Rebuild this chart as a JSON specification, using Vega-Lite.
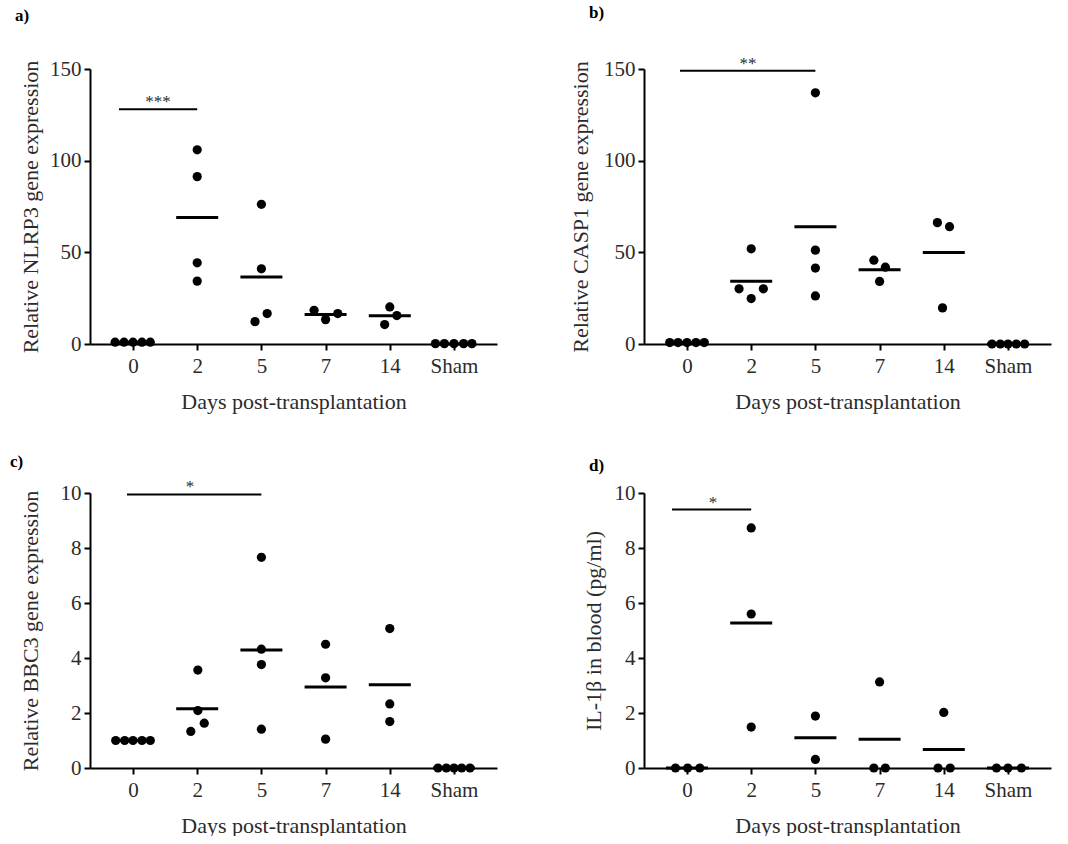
{
  "$schema": "https://vega.github.io/schema/vega-lite/v6.json",
  "background": "white",
  "padding": {"left": 10, "top": 3, "right": 5, "bottom": 0},
  "config": {
    "view": {"stroke": null},
    "font": "'Liberation Serif', 'Times New Roman', serif",
    "axis": {
      "grid": false,
      "domainColor": "black",
      "domainWidth": 2,
      "tickColor": "black",
      "tickWidth": 2,
      "tickSize": 6,
      "labelFont": "'Liberation Serif', 'Times New Roman', serif",
      "labelFontSize": 21,
      "labelColor": "#2b2b2b",
      "titleFont": "'Liberation Serif', 'Times New Roman', serif",
      "titleFontSize": 22,
      "titleFontWeight": "normal",
      "titleColor": "#2b2b2b"
    },
    "axisX": {"labelAngle": 0, "labelPadding": 5, "titlePadding": 15},
    "axisY": {"labelPadding": 3, "titlePadding": 7},
    "text": {"font": "'Liberation Serif', 'Times New Roman', serif"},
    "title": {"font": "'Liberation Serif', 'Times New Roman', serif", "fontSize": 17, "fontWeight": "bold", "color": "black", "anchor": "start", "frame": "group"}
  },
  "datasets": {
    "pts": [
      {"p": "a", "day": "0", "v": 1, "j": -0.28},
      {"p": "a", "day": "0", "v": 1, "j": -0.14},
      {"p": "a", "day": "0", "v": 1, "j": 0},
      {"p": "a", "day": "0", "v": 1, "j": 0.14},
      {"p": "a", "day": "0", "v": 1, "j": 0.27},
      {"p": "a", "day": "2", "v": 105.9, "j": 0},
      {"p": "a", "day": "2", "v": 91.3, "j": 0},
      {"p": "a", "day": "2", "v": 44.3, "j": 0},
      {"p": "a", "day": "2", "v": 34.3, "j": 0},
      {"p": "a", "day": "5", "v": 76.2, "j": 0},
      {"p": "a", "day": "5", "v": 41.0, "j": 0},
      {"p": "a", "day": "5", "v": 16.6, "j": 0.09},
      {"p": "a", "day": "5", "v": 12.2, "j": -0.1},
      {"p": "a", "day": "7", "v": 18.4, "j": -0.18},
      {"p": "a", "day": "7", "v": 13.3, "j": 0},
      {"p": "a", "day": "7", "v": 16.6, "j": 0.19},
      {"p": "a", "day": "14", "v": 20.2, "j": 0},
      {"p": "a", "day": "14", "v": 15.5, "j": 0.11},
      {"p": "a", "day": "14", "v": 10.6, "j": -0.08},
      {"p": "a", "day": "Sham", "v": 0.2, "j": -0.29},
      {"p": "a", "day": "Sham", "v": 0.2, "j": -0.15},
      {"p": "a", "day": "Sham", "v": 0.2, "j": 0},
      {"p": "a", "day": "Sham", "v": 0.2, "j": 0.15},
      {"p": "a", "day": "Sham", "v": 0.2, "j": 0.28},

      {"p": "b", "day": "0", "v": 0.8, "j": -0.27},
      {"p": "b", "day": "0", "v": 0.8, "j": -0.14},
      {"p": "b", "day": "0", "v": 0.8, "j": 0},
      {"p": "b", "day": "0", "v": 0.8, "j": 0.14},
      {"p": "b", "day": "0", "v": 0.8, "j": 0.27},
      {"p": "b", "day": "2", "v": 51.9, "j": 0},
      {"p": "b", "day": "2", "v": 30.1, "j": -0.19},
      {"p": "b", "day": "2", "v": 24.8, "j": 0},
      {"p": "b", "day": "2", "v": 30.1, "j": 0.19},
      {"p": "b", "day": "5", "v": 137.0, "j": 0},
      {"p": "b", "day": "5", "v": 51.2, "j": 0},
      {"p": "b", "day": "5", "v": 41.4, "j": 0},
      {"p": "b", "day": "5", "v": 26.2, "j": 0},
      {"p": "b", "day": "7", "v": 45.7, "j": -0.09},
      {"p": "b", "day": "7", "v": 41.9, "j": 0.09},
      {"p": "b", "day": "7", "v": 34.1, "j": 0},
      {"p": "b", "day": "14", "v": 66.2, "j": -0.1},
      {"p": "b", "day": "14", "v": 64.0, "j": 0.09},
      {"p": "b", "day": "14", "v": 19.7, "j": -0.02},
      {"p": "b", "day": "Sham", "v": 0, "j": -0.25},
      {"p": "b", "day": "Sham", "v": 0, "j": -0.12},
      {"p": "b", "day": "Sham", "v": 0, "j": 0},
      {"p": "b", "day": "Sham", "v": 0, "j": 0.13},
      {"p": "b", "day": "Sham", "v": 0, "j": 0.26},

      {"p": "c", "day": "0", "v": 1, "j": -0.27},
      {"p": "c", "day": "0", "v": 1, "j": -0.13},
      {"p": "c", "day": "0", "v": 1, "j": 0},
      {"p": "c", "day": "0", "v": 1, "j": 0.14},
      {"p": "c", "day": "0", "v": 1, "j": 0.27},
      {"p": "c", "day": "2", "v": 3.56, "j": 0.01},
      {"p": "c", "day": "2", "v": 2.09, "j": 0.01},
      {"p": "c", "day": "2", "v": 1.63, "j": 0.11},
      {"p": "c", "day": "2", "v": 1.33, "j": -0.1},
      {"p": "c", "day": "5", "v": 7.66, "j": 0},
      {"p": "c", "day": "5", "v": 4.32, "j": 0},
      {"p": "c", "day": "5", "v": 3.76, "j": 0},
      {"p": "c", "day": "5", "v": 1.41, "j": 0},
      {"p": "c", "day": "7", "v": 4.50, "j": 0},
      {"p": "c", "day": "7", "v": 3.28, "j": 0},
      {"p": "c", "day": "7", "v": 1.05, "j": 0},
      {"p": "c", "day": "14", "v": 5.07, "j": 0},
      {"p": "c", "day": "14", "v": 2.33, "j": 0},
      {"p": "c", "day": "14", "v": 1.69, "j": 0},
      {"p": "c", "day": "Sham", "v": 0, "j": -0.25},
      {"p": "c", "day": "Sham", "v": 0, "j": -0.12},
      {"p": "c", "day": "Sham", "v": 0, "j": 0},
      {"p": "c", "day": "Sham", "v": 0, "j": 0.12},
      {"p": "c", "day": "Sham", "v": 0, "j": 0.25},

      {"p": "d", "day": "0", "v": 0, "j": -0.18},
      {"p": "d", "day": "0", "v": 0, "j": 0.01},
      {"p": "d", "day": "0", "v": 0, "j": 0.2},
      {"p": "d", "day": "2", "v": 8.73, "j": 0},
      {"p": "d", "day": "2", "v": 5.60, "j": 0},
      {"p": "d", "day": "2", "v": 1.49, "j": 0},
      {"p": "d", "day": "5", "v": 1.89, "j": 0},
      {"p": "d", "day": "5", "v": 0.31, "j": 0},
      {"p": "d", "day": "7", "v": 3.13, "j": 0},
      {"p": "d", "day": "7", "v": 0, "j": -0.09},
      {"p": "d", "day": "7", "v": 0, "j": 0.09},
      {"p": "d", "day": "14", "v": 2.02, "j": 0},
      {"p": "d", "day": "14", "v": 0, "j": -0.09},
      {"p": "d", "day": "14", "v": 0, "j": 0.1},
      {"p": "d", "day": "Sham", "v": 0, "j": -0.18},
      {"p": "d", "day": "Sham", "v": 0, "j": 0},
      {"p": "d", "day": "Sham", "v": 0, "j": 0.21}
    ],
    "sig": [
      {"p": "a", "from": "0", "to": "2", "y": 128, "stars": "***"},
      {"p": "b", "from": "0", "to": "5", "y": 149, "stars": "**"},
      {"p": "c", "from": "0", "to": "5", "y": 9.95, "stars": "*"},
      {"p": "d", "from": "0", "to": "2", "y": 9.4, "stars": "*"}
    ]
  },
  "columns": 2,
  "bounds": "flush",
  "spacing": {"row": 149, "column": 147},
  "concat": [
    {
      "width": 407, "height": 275,
      "title": {"text": "a)", "dx": -75, "offset": 33},
      "layer": [
        {"data": {"name": "pts"}, "transform": [{"filter": "datum.p === 'a'"}],
         "mark": {"type": "tick", "size": 42, "thickness": 3, "color": "black"},
         "encoding": {
           "x": {"field": "day", "type": "ordinal", "title": "Days post-transplantation", "scale": {"type": "point", "domain": ["0","2","5","7","14","Sham"], "padding": 0.67}},
           "y": {"aggregate": "mean", "field": "v", "type": "quantitative", "title": "Relative NLRP3 gene expression", "scale": {"domain": [0, 150], "nice": false}, "axis": {"values": [0, 50, 100, 150]}}
         }},
        {"data": {"name": "pts"}, "transform": [{"filter": "datum.p === 'a'"}],
         "mark": {"type": "circle", "size": 85, "opacity": 1, "color": "black"},
         "encoding": {
           "x": {"field": "day", "type": "ordinal", "title": "Days post-transplantation", "scale": {"type": "point", "domain": ["0","2","5","7","14","Sham"], "padding": 0.67}},
           "xOffset": {"field": "j", "type": "quantitative", "scale": {"domain": [-1, 1], "range": [-64, 64]}},
           "y": {"field": "v", "type": "quantitative", "title": "Relative NLRP3 gene expression"}
         }},
        {"data": {"name": "sig"}, "transform": [{"filter": "datum.p === 'a'"}],
         "mark": {"type": "rule", "strokeWidth": 2, "color": "black", "xOffset": -14},
         "encoding": {
           "x": {"field": "from", "type": "ordinal", "title": "Days post-transplantation", "scale": {"type": "point", "domain": ["0","2","5","7","14","Sham"], "padding": 0.67}},
           "x2": {"field": "to"},
           "y": {"field": "y", "type": "quantitative", "title": "Relative NLRP3 gene expression"}
         }},
        {"data": {"name": "sig"}, "transform": [{"filter": "datum.p === 'a'"}],
         "mark": {"type": "text", "dx": 25, "dy": -2, "baseline": "alphabetic", "fontSize": 17, "color": "#2b2b2b"},
         "encoding": {
           "x": {"field": "from", "type": "ordinal", "title": "Days post-transplantation", "scale": {"type": "point", "domain": ["0","2","5","7","14","Sham"], "padding": 0.67}},
           "y": {"field": "y", "type": "quantitative", "title": "Relative NLRP3 gene expression"},
           "text": {"field": "stars"}
         }}
      ]
    },
    {
      "width": 407, "height": 275,
      "title": {"text": "b)", "dx": -55, "offset": 33},
      "layer": [
        {"data": {"name": "pts"}, "transform": [{"filter": "datum.p === 'b'"}],
         "mark": {"type": "tick", "size": 42, "thickness": 3, "color": "black"},
         "encoding": {
           "x": {"field": "day", "type": "ordinal", "title": "Days post-transplantation", "scale": {"type": "point", "domain": ["0","2","5","7","14","Sham"], "padding": 0.67}},
           "y": {"aggregate": "mean", "field": "v", "type": "quantitative", "title": "Relative CASP1 gene expression", "scale": {"domain": [0, 150], "nice": false}, "axis": {"values": [0, 50, 100, 150], "titlePadding": 11}}
         }},
        {"data": {"name": "pts"}, "transform": [{"filter": "datum.p === 'b'"}],
         "mark": {"type": "circle", "size": 85, "opacity": 1, "color": "black"},
         "encoding": {
           "x": {"field": "day", "type": "ordinal", "title": "Days post-transplantation", "scale": {"type": "point", "domain": ["0","2","5","7","14","Sham"], "padding": 0.67}},
           "xOffset": {"field": "j", "type": "quantitative", "scale": {"domain": [-1, 1], "range": [-64, 64]}},
           "y": {"field": "v", "type": "quantitative", "title": "Relative CASP1 gene expression"}
         }},
        {"data": {"name": "sig"}, "transform": [{"filter": "datum.p === 'b'"}],
         "mark": {"type": "rule", "strokeWidth": 2, "color": "black", "xOffset": -7},
         "encoding": {
           "x": {"field": "from", "type": "ordinal", "title": "Days post-transplantation", "scale": {"type": "point", "domain": ["0","2","5","7","14","Sham"], "padding": 0.67}},
           "x2": {"field": "to"},
           "y": {"field": "y", "type": "quantitative", "title": "Relative CASP1 gene expression"}
         }},
        {"data": {"name": "sig"}, "transform": [{"filter": "datum.p === 'b'"}],
         "mark": {"type": "text", "dx": 61, "dy": -2, "baseline": "alphabetic", "fontSize": 17, "color": "#2b2b2b"},
         "encoding": {
           "x": {"field": "from", "type": "ordinal", "title": "Days post-transplantation", "scale": {"type": "point", "domain": ["0","2","5","7","14","Sham"], "padding": 0.67}},
           "y": {"field": "y", "type": "quantitative", "title": "Relative CASP1 gene expression"},
           "text": {"field": "stars"}
         }}
      ]
    },
    {
      "width": 407, "height": 275,
      "title": {"text": "c)", "dx": -80, "offset": 7},
      "layer": [
        {"data": {"name": "pts"}, "transform": [{"filter": "datum.p === 'c'"}],
         "mark": {"type": "tick", "size": 42, "thickness": 3, "color": "black"},
         "encoding": {
           "x": {"field": "day", "type": "ordinal", "title": "Days post-transplantation", "scale": {"type": "point", "domain": ["0","2","5","7","14","Sham"], "padding": 0.67}},
           "y": {"aggregate": "mean", "field": "v", "type": "quantitative", "title": "Relative BBC3 gene expression", "scale": {"domain": [0, 10], "nice": false}, "axis": {"values": [0, 2, 4, 6, 8, 10], "titlePadding": 18}}
         }},
        {"data": {"name": "pts"}, "transform": [{"filter": "datum.p === 'c'"}],
         "mark": {"type": "circle", "size": 85, "opacity": 1, "color": "black"},
         "encoding": {
           "x": {"field": "day", "type": "ordinal", "title": "Days post-transplantation", "scale": {"type": "point", "domain": ["0","2","5","7","14","Sham"], "padding": 0.67}},
           "xOffset": {"field": "j", "type": "quantitative", "scale": {"domain": [-1, 1], "range": [-64, 64]}},
           "y": {"field": "v", "type": "quantitative", "title": "Relative BBC3 gene expression"}
         }},
        {"data": {"name": "sig"}, "transform": [{"filter": "datum.p === 'c'"}],
         "mark": {"type": "rule", "strokeWidth": 2, "color": "black", "xOffset": -6},
         "encoding": {
           "x": {"field": "from", "type": "ordinal", "title": "Days post-transplantation", "scale": {"type": "point", "domain": ["0","2","5","7","14","Sham"], "padding": 0.67}},
           "x2": {"field": "to"},
           "y": {"field": "y", "type": "quantitative", "title": "Relative BBC3 gene expression"}
         }},
        {"data": {"name": "sig"}, "transform": [{"filter": "datum.p === 'c'"}],
         "mark": {"type": "text", "dx": 57, "dy": -2, "baseline": "alphabetic", "fontSize": 17, "color": "#2b2b2b"},
         "encoding": {
           "x": {"field": "from", "type": "ordinal", "title": "Days post-transplantation", "scale": {"type": "point", "domain": ["0","2","5","7","14","Sham"], "padding": 0.67}},
           "y": {"field": "y", "type": "quantitative", "title": "Relative BBC3 gene expression"},
           "text": {"field": "stars"}
         }}
      ]
    },
    {
      "width": 407, "height": 275,
      "title": {"text": "d)", "dx": -55, "offset": 7},
      "layer": [
        {"data": {"name": "pts"}, "transform": [{"filter": "datum.p === 'd'"}],
         "mark": {"type": "tick", "size": 42, "thickness": 3, "color": "black"},
         "encoding": {
           "x": {"field": "day", "type": "ordinal", "title": "Days post-transplantation", "scale": {"type": "point", "domain": ["0","2","5","7","14","Sham"], "padding": 0.67}},
           "y": {"aggregate": "mean", "field": "v", "type": "quantitative", "title": "IL-1β in blood (pg/ml)", "scale": {"domain": [0, 10], "nice": false}, "axis": {"values": [0, 2, 4, 6, 8, 10], "titlePadding": 9}}
         }},
        {"data": {"name": "pts"}, "transform": [{"filter": "datum.p === 'd'"}],
         "mark": {"type": "circle", "size": 85, "opacity": 1, "color": "black"},
         "encoding": {
           "x": {"field": "day", "type": "ordinal", "title": "Days post-transplantation", "scale": {"type": "point", "domain": ["0","2","5","7","14","Sham"], "padding": 0.67}},
           "xOffset": {"field": "j", "type": "quantitative", "scale": {"domain": [-1, 1], "range": [-64, 64]}},
           "y": {"field": "v", "type": "quantitative", "title": "IL-1β in blood (pg/ml)"}
         }},
        {"data": {"name": "sig"}, "transform": [{"filter": "datum.p === 'd'"}],
         "mark": {"type": "rule", "strokeWidth": 2, "color": "black", "xOffset": -15},
         "encoding": {
           "x": {"field": "from", "type": "ordinal", "title": "Days post-transplantation", "scale": {"type": "point", "domain": ["0","2","5","7","14","Sham"], "padding": 0.67}},
           "x2": {"field": "to"},
           "y": {"field": "y", "type": "quantitative", "title": "IL-1β in blood (pg/ml)"}
         }},
        {"data": {"name": "sig"}, "transform": [{"filter": "datum.p === 'd'"}],
         "mark": {"type": "text", "dx": 26, "dy": -2, "baseline": "alphabetic", "fontSize": 17, "color": "#2b2b2b"},
         "encoding": {
           "x": {"field": "from", "type": "ordinal", "title": "Days post-transplantation", "scale": {"type": "point", "domain": ["0","2","5","7","14","Sham"], "padding": 0.67}},
           "y": {"field": "y", "type": "quantitative", "title": "IL-1β in blood (pg/ml)"},
           "text": {"field": "stars"}
         }}
      ]
    }
  ]
}
